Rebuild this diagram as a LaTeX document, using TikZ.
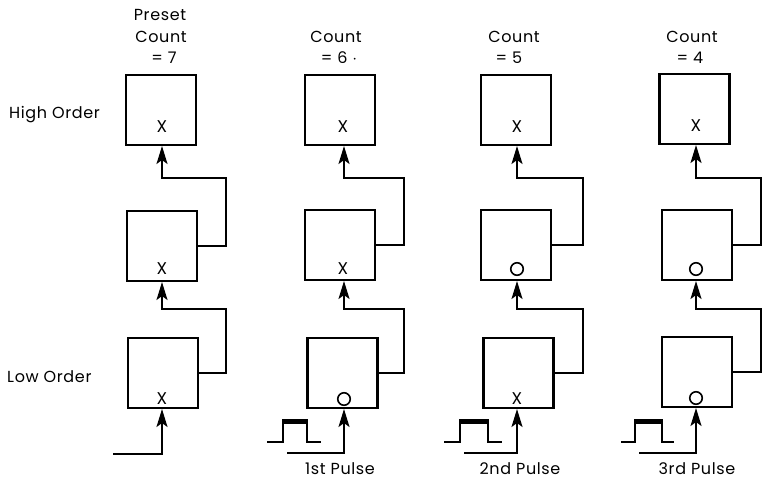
\documentclass[tikz,border=0pt]{standalone}
\usepackage{fontspec}
\setmainfont{Poppins}[LetterSpace=4]
\usetikzlibrary{arrows.meta}
\begin{document}
\begin{tikzpicture}[x=1pt,y=-1pt,
  stage/.style={draw,line width=2.2pt,minimum width=70pt,minimum height=70pt,inner sep=0pt,anchor=south},
  wire/.style={line width=2pt},
  feed/.style={wire,-{Stealth[length=18pt,width=11pt,inset=4pt]}},
  txt/.style={font=\fontsize{16}{16}\selectfont,inner sep=0pt},
  xmark/.style={font=\fontsize{17}{17}\selectfont,inner sep=0pt},
  ring/.style={draw,circle,line width=1.6pt,minimum size=12.5pt,inner sep=0pt}]
\useasboundingbox (0,0) rectangle (762,485);

% ---- column 1: preset count = 7
\node[stage] (a3) at (161,146) {};
\node[stage] (a2) at (162,282) {};
\node[stage] (a1) at (163,409) {};
\node[xmark] (ma3) at (162,127) {X};
\node[xmark] (ma2) at (162,269) {X};
\node[xmark] (ma1) at (162,399) {X};
\coordinate (ra) at (226,0);
\draw[feed] (a2.east) -- (a2.east -| ra) |- (162,178) -- (162,146);
\draw[feed] (a1.east) -- (a1.east -| ra) |- (162,309) -- (162,282);
\coordinate (ina) at (113,454);
\draw[feed] (ina) -| (162,409);

% ---- column 2: count = 6
\node[stage] (b3) at (340,146) {};
\node[stage] (b2) at (340,281) {};
\node[stage] (b1) at (342.5,409) {};
\node[xmark] (mb3) at (343,127) {X};
\node[xmark] (mb2) at (343,269) {X};
\node[ring] (mb1) at (344,399) {};
\coordinate (rb) at (404,0);
\draw[feed] (b2.east) -- (b2.east -| rb) |- (344,178) -- (344,146);
\draw[feed] (b1.east) -- (b1.east -| rb) |- (344,309) -- (344,281);
\coordinate (inb) at (287,453);
\draw[feed] (inb) -| (344,409);
\draw[wire] (267,442) -- (283,442) -- (283,420) -- (307,420) -- (307,442) -- (321,442);
\draw[line width=4.5pt] (283,421.5) -- (307,421.5);

% ---- column 3: count = 5
\node[stage] (c3) at (516,146) {};
\node[stage] (c2) at (516,281) {};
\node[stage] (c1) at (518.5,409) {};
\node[xmark] (mc3) at (517,127) {X};
\node[ring] (mc2) at (517,269) {};
\node[xmark] (mc1) at (517,399) {X};
\coordinate (rc) at (583,0);
\draw[feed] (c2.east) -- (c2.east -| rc) |- (517,178) -- (517,146);
\draw[feed] (c1.east) -- (c1.east -| rc) |- (517,309) -- (517,281);
\coordinate (inc) at (464,453);
\draw[feed] (inc) -| (517,409);
\draw[wire] (444,442) -- (460,442) -- (460,420) -- (488,420) -- (488,442) -- (502,442);
\draw[line width=4.5pt] (460,421.5) -- (488,421.5);

% ---- column 4: count = 4
\node[stage] (d3) at (694.5,145) {};
\node[stage] (d2) at (697,281) {};
\node[stage] (d1) at (697,408) {};
\node[xmark] (md3) at (696,126) {X};
\node[ring] (md2) at (696,269) {};
\node[ring] (md1) at (696,398) {};
\coordinate (rd) at (760.5,0);
\draw[feed] (d2.east) -- (d2.east -| rd) |- (696,178) -- (696,145);
\draw[feed] (d1.east) -- (d1.east -| rd) |- (696,309) -- (696,281);
\coordinate (ind) at (639,453);
\draw[feed] (ind) -| (696,408);
\draw[wire] (621,442) -- (635,442) -- (635,420) -- (662,420) -- (662,442) -- (674,442);
\draw[line width=4.5pt] (635,421.5) -- (662,421.5);

% ---- headings
\node[txt] (h1a) at (160,15) {Preset};
\node[txt] (h1b) at (161,37) {Count};
\node[txt] (h1c) at (164,58) {= 7};
\node[txt] (h2b) at (336,37) {Count};
\node[txt] (h2c) at (339,58) {= 6 $\cdot$};
\node[txt] (h3b) at (514,37) {Count};
\node[txt] (h3c) at (509,58) {= 5};
\node[txt] (h4b) at (692,37) {Count};
\node[txt] (h4c) at (690,58) {= 4};

% ---- row labels
\node[txt,anchor=west] (hi) at (9,115) {High Order};
\node[txt,anchor=west] (lo) at (7,377) {Low Order};

% ---- pulse labels
\node[txt] (p1) at (340,469) {1st Pulse};
\node[txt] (p2) at (520,469) {2nd Pulse};
\node[txt] (p3) at (697,469) {3rd Pulse};
\end{tikzpicture}
\end{document}
